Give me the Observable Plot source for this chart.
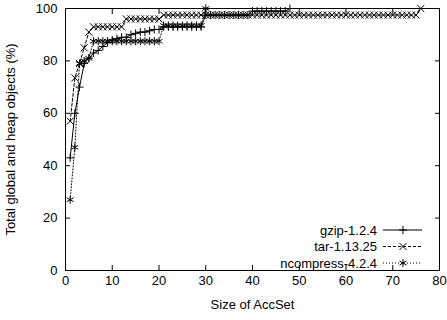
<!DOCTYPE html>
<html><head><meta charset="utf-8">
<script src="https://cdn.jsdelivr.net/npm/d3@7"></script>
<script src="https://cdn.jsdelivr.net/npm/@observablehq/plot@0.6"></script>
<style>body{margin:0;background:#fff}svg{display:block}</style>
</head><body><div id="chart"></div>
<script>
const seriesNames = ["gzip-1.2.4", "tar-1.13.25", "ncompress-4.2.4"];
const xTicks = [0, 10, 20, 30, 40, 50, 60, 70, 80];
const yTicks = [0, 20, 40, 60, 80, 100];

const gzipX = [1,2,3,4,5,6,7,8,9,10,11,12,13,14,15,16,17,18,19,20,21,22,23,24,25,26,27,28,29,30,31,32,33,34,35,36,37,38,39,40,41,42,43,44,45,46,47,48];
const gzipY = [43,60,70,79,81,83,84,85.5,87,88,88.5,89,89,90,90.5,91,91,91.5,92,92,93,93,93,93,93,93,93,93,93,97.5,97.5,97.5,97.5,97.5,97.5,97.5,97.5,97.5,97.5,99,99,99,99,99,99,99,99,100];

const tarX = [1,2,3,4,5,6,7,8,9,10,11,12,13,14,15,16,17,18,19,20,21,22,23,24,25,26,27,28,29,30,31,32,33,34,35,36,37,38,39,40,41,42,43,44,45,46,47,48,49,50,51,52,53,54,55,56,57,58,59,60,61,62,63,64,65,66,67,68,69,70,71,72,73,74,75,76];
const tarY = [57,73.5,79,85,91,93,93,93,93,93,93,93,96,96,96,96,96,96,96,96,97.5,97.5,97.5,97.5,97.5,97.5,97.5,97.5,97.5,97.5,97.5,97.5,97.5,97.5,97.5,97.5,97.5,97.5,97.5,97.5,97.5,97.5,97.5,97.5,97.5,97.5,97.5,97.5,97.5,97.5,97.5,97.5,97.5,97.5,97.5,97.5,97.5,97.5,97.5,97.5,97.5,97.5,97.5,97.5,97.5,97.5,97.5,97.5,97.5,97.5,97.5,97.5,97.5,97.5,97.5,100];

const ncompX = [1,2,3,4,5,6,7,8,9,10,11,12,13,14,15,16,17,18,19,20,21,22,23,24,25,26,27,28,29,30];
const ncompY = [27,47,79,80,81,87.5,87.5,87.5,87.5,87.5,87.5,87.5,87.5,87.5,87.5,87.5,87.5,87.5,87.5,87.5,93.5,93.5,93.5,93.5,93.5,93.5,93.5,93.5,93.5,100];

const gzip = gzipX.map((x, i) => ({x, y: gzipY[i]}));
const tar = tarX.map((x, i) => ({x, y: tarY[i]}));
const ncomp = ncompX.map((x, i) => ({x, y: ncompY[i]}));

const FONT = "'Liberation Sans', Arial, Helvetica, sans-serif";
const R = {plus: 2.7, times: 3.3, asterisk: 3.8};
const styles = [
  {dash: null, symbol: d3.symbolPlus, r: R.plus},
  {dash: "3,2", symbol: d3.symbolTimes, r: R.times},
  {dash: "1,2", symbol: d3.symbolAsterisk, r: R.asterisk}
];

function legend(index, scales, values, dims) {
  const g = d3.create("svg:g").attr("font-family", FONT).attr("font-size", 13).attr("fill", "black");
  const right = dims.width - dims.marginRight;
  const bottom = dims.height - dims.marginBottom;
  seriesNames.forEach((name, i) => {
    const y = bottom - 40 + i * 16.5;
    g.append("text").attr("x", right - 62).attr("y", y).attr("dy", "0.35em").attr("text-anchor", "end").text(name);
    const ln = g.append("line").attr("x1", right - 56).attr("x2", right - 17).attr("y1", y).attr("y2", y)
      .attr("stroke", "black").attr("stroke-width", 1);
    if (styles[i].dash) ln.attr("stroke-dasharray", styles[i].dash);
    g.append("path").attr("transform", `translate(${right - 36},${y})`)
      .attr("d", d3.symbol(styles[i].symbol, Math.PI * styles[i].r * styles[i].r)())
      .attr("fill", "none").attr("stroke", "black").attr("stroke-width", 1);
  });
  return g.node();
}

const chart = Plot.plot({
  width: 447,
  height: 320,
  marginLeft: 65,
  marginRight: 8,
  marginTop: 8,
  marginBottom: 50,
  style: {fontFamily: FONT, fontSize: "13px", color: "black", background: "white"},
  x: {domain: [0, 80]},
  y: {domain: [0, 100]},
  marks: [
    Plot.frame({stroke: "black", strokeWidth: 1}),
    Plot.axisX({ticks: xTicks, tickSize: -5, tickPadding: 10, label: "Size of AccSet", labelAnchor: "center", labelArrow: "none", labelOffset: 38, fontSize: 13}),
    Plot.axisX({anchor: "top", ticks: xTicks, tickSize: -5, tickFormat: () => "", label: null}),
    Plot.axisY({ticks: yTicks, tickSize: -5, tickPadding: 13, label: "Total global and heap objects (%)", labelAnchor: "center", labelArrow: "none", labelOffset: 60, fontSize: 13}),
    Plot.axisY({anchor: "right", ticks: yTicks, tickSize: -5, tickFormat: () => "", label: null}),
    Plot.line(gzip, {x: "x", y: "y", stroke: "black", strokeWidth: 1}),
    Plot.dot(gzip, {x: "x", y: "y", symbol: "plus", r: R.plus, stroke: "black", strokeWidth: 1}),
    Plot.line(tar, {x: "x", y: "y", stroke: "black", strokeWidth: 1, strokeDasharray: "3,2"}),
    Plot.dot(tar, {x: "x", y: "y", symbol: "times", r: R.times, stroke: "black", strokeWidth: 1}),
    Plot.line(ncomp, {x: "x", y: "y", stroke: "black", strokeWidth: 1, strokeDasharray: "1,2"}),
    Plot.dot(ncomp, {x: "x", y: "y", symbol: "asterisk", r: R.asterisk, stroke: "black", strokeWidth: 1}),
    legend
  ]
});
document.getElementById("chart").append(chart);
</script>
</body></html>
